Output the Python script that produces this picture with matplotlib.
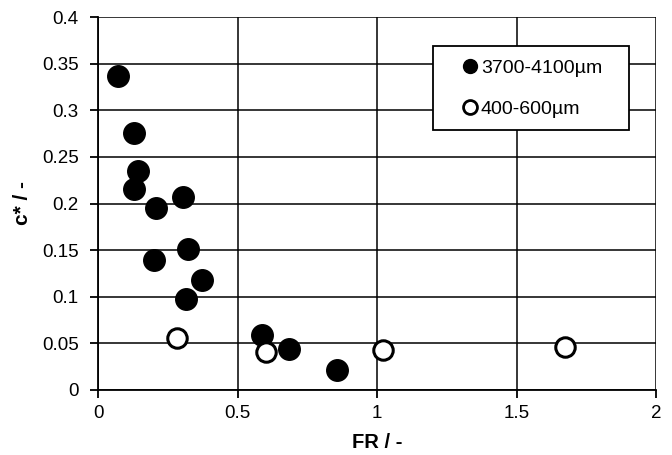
import matplotlib
matplotlib.use("Agg")
import matplotlib.pyplot as plt
from matplotlib.lines import Line2D
from matplotlib.patches import Rectangle

plt.rcParams['font.family'] = ['Liberation Sans', 'DejaVu Sans']

# Data
fr_large = [0.071, 0.129, 0.143, 0.129, 0.209, 0.305, 0.321, 0.199, 0.371, 0.314, 0.587, 0.685, 0.857]
c_large = [0.337, 0.276, 0.235, 0.216, 0.195, 0.207, 0.151, 0.139, 0.118, 0.098, 0.059, 0.044, 0.021]
fr_small = [0.284, 0.601, 1.021, 1.675]
c_small = [0.056, 0.041, 0.043, 0.046]
label_large = "3700-4100µm"
label_small = "400-600µm"
xticks = [0, 0.5, 1, 1.5, 2]
xticklabels = ["0", "0.5", "1", "1.5", "2"]
yticks = [0, 0.05, 0.1, 0.15, 0.2, 0.25, 0.3, 0.35, 0.4]
yticklabels = ["0", "0.05", "0.1", "0.15", "0.2", "0.25", "0.3", "0.35", "0.4"]

W, H = 672, 455
AX_L, AX_R, AX_T, AX_B = 98, 656, 17, 390
fig = plt.figure(figsize=(W/100, H/100), dpi=100)
ax = fig.add_axes([AX_L/W, 1 - AX_B/H, (AX_R-AX_L)/W, (AX_B-AX_T)/H])

def ax_x(px):
    return (px - AX_L) / (AX_R - AX_L)

def ax_y(py):
    return (AX_B - py) / (AX_B - AX_T)

ax.plot(fr_large, c_large, linestyle='none', marker='o', markersize=15.5,
        markerfacecolor='black', markeredgecolor='black', markeredgewidth=1, zorder=3)
ax.plot(fr_small, c_small, linestyle='none', marker='o', markersize=14,
        markerfacecolor='white', markeredgecolor='black', markeredgewidth=2.2, zorder=4)

ax.set_xlim(0, 2)
ax.set_ylim(0, 0.4)
ax.set_xticks(xticks)
ax.set_xticklabels(xticklabels)
ax.set_yticks(yticks)
ax.set_yticklabels(yticklabels)
ax.grid(True, color='black', linewidth=1.1)
ax.set_axisbelow(True)
for s in ['top', 'right']:
    ax.spines[s].set_visible(False)
for s in ['left', 'bottom']:
    ax.spines[s].set_linewidth(1.3)
ax.tick_params(direction='out', length=6, width=1.3, labelsize=13.5)
ax.tick_params(axis='x', pad=5)
ax.tick_params(axis='y', pad=8)

ax.set_xlabel("FR / -", fontsize=14.5, fontweight='bold', labelpad=8)
ax.set_ylabel("c* / -", fontsize=15, fontweight='bold', labelpad=7)

# legend box
box = Rectangle((ax_x(433), ax_y(130)), ax_x(629) - ax_x(433), ax_y(46) - ax_y(130),
                transform=ax.transAxes, facecolor='white', edgecolor='black',
                linewidth=1.3, zorder=8, clip_on=False)
ax.add_patch(box)

handles = [
    Line2D([], [], linestyle='none', marker='o', markersize=10, markerfacecolor='black', markeredgecolor='black'),
    Line2D([], [], linestyle='none', marker='o', markersize=10, markerfacecolor='white', markeredgecolor='black', markeredgewidth=2),
]
leg = ax.legend(handles, [label_large, label_small], loc='center left',
                bbox_to_anchor=(ax_x(460.5), ax_y(88.5)), fontsize=14,
                frameon=False, handletextpad=0.05, handlelength=1.0,
                labelspacing=1.2, borderpad=0, borderaxespad=0)
leg.set_zorder(10)

fig.savefig("out.png", dpi=100)
